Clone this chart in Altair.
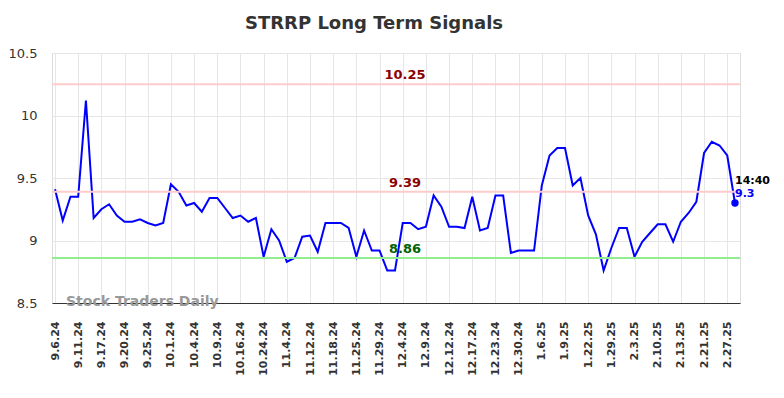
import altair as alt
import pandas as pd

# Tick labels (one every 3 trading sessions)
tick_labels = ["9.6.24", "9.11.24", "9.17.24", "9.20.24", "9.25.24", "10.1.24", "10.4.24",
               "10.9.24", "10.16.24", "10.24.24", "11.4.24", "11.12.24", "11.18.24", "11.25.24",
               "11.29.24", "12.4.24", "12.9.24", "12.12.24", "12.17.24", "12.23.24", "12.30.24",
               "1.6.25", "1.9.25", "1.22.25", "1.29.25", "2.3.25", "2.10.25", "2.13.25",
               "2.21.25", "2.27.25"]

# Price series
prices = [9.41, 9.16, 9.35, 9.35, 10.12, 9.18, 9.25, 9.29, 9.20, 9.15,
          9.15, 9.17, 9.14, 9.12, 9.14, 9.45, 9.39, 9.28, 9.30, 9.23,
          9.34, 9.34, 9.26, 9.18, 9.20, 9.15, 9.18, 8.87, 9.09, 9.00,
          8.83, 8.86, 9.03, 9.04, 8.91, 9.14, 9.14, 9.14, 9.10, 8.87,
          9.08, 8.92, 8.92, 8.76, 8.76, 9.14, 9.14, 9.09, 9.11, 9.36,
          9.27, 9.11, 9.11, 9.10, 9.35, 9.08, 9.10, 9.36, 9.36, 8.90,
          8.92, 8.92, 8.92, 9.44, 9.68, 9.74, 9.74, 9.44, 9.50, 9.20,
          9.05, 8.76, 8.94, 9.10, 9.10, 8.87, 8.99, 9.06, 9.13, 9.13,
          8.99, 9.15, 9.22, 9.31, 9.70, 9.79, 9.76, 9.68, 9.30]

# Signal levels
level_values = [10.25, 9.39, 8.86]
level_labels = ["10.25", "9.39", "8.86"]
level_line_colors = ["#ffcccc", "#ffcccc", "#90ee90"]
level_text_colors = ["#8b0000", "#8b0000", "#006400"]

y_ticks = [8.5, 9, 9.5, 10, 10.5]

last_time = "14:40"
last_value_label = "9.3"

df = pd.DataFrame({"i": list(range(len(prices))), "price": prices})
levels = pd.DataFrame({"v": level_values, "label": level_labels,
                       "lc": level_line_colors, "tc": level_text_colors})
last = df.iloc[[-1]].copy()
last["t"] = last_time
last["lab"] = last_value_label

tick_vals = [3 * k for k in range(len(tick_labels))]
label_arr = "[" + ",".join("'" + s + "'" for s in tick_labels) + "]"

x_scale = alt.Scale(domain=[-0.39, 88.65], nice=False, zero=False)
y_scale = alt.Scale(domain=[8.5, 10.5], nice=False, zero=False)

x_axis = alt.Axis(values=tick_vals, labelExpr=label_arr + "[round(datum.value/3)]",
                  labelAngle=-90, labelFont="DejaVu Sans", labelFontWeight="bold",
                  labelFontSize=11, labelColor="#333333", labelPadding=6, tickSize=12,
                  tickColor="#ffffff00", domainColor="#333333", domainWidth=1,
                  gridColor="#e6e6e6", title=None, labelOverlap=False, labelBound=False)
y_axis = alt.Axis(values=y_ticks, labelExpr="format(datum.value, '~g')",
                  labelFont="DejaVu Sans", labelFontSize=13,
                  labelColor="#333333", labelPadding=15, ticks=False, domain=False,
                  gridColor="#e6e6e6", title=None)

X = alt.X("i:Q", scale=x_scale, axis=x_axis)
Y = alt.Y("price:Q", scale=y_scale, axis=y_axis)

base = alt.Chart(df)

line = base.mark_line(color="#0000ff", strokeWidth=2).encode(x=X, y=Y)

rules = alt.Chart(levels).mark_rule(strokeWidth=2).encode(
    y=alt.Y("v:Q", scale=y_scale, axis=y_axis),
    color=alt.Color("lc:N", scale=None),
)

rule_text = alt.Chart(levels).mark_text(font="DejaVu Sans", fontWeight="bold", fontSize=13,
                                        baseline="bottom", dy=-2).encode(
    x=alt.value(353),
    y=alt.Y("v:Q", scale=y_scale, axis=y_axis),
    text="label:N",
    color=alt.Color("tc:N", scale=None),
)

dot = alt.Chart(last).mark_circle(color="#0000ff", size=55, opacity=1).encode(x=X, y=Y)

t_time = alt.Chart(last).mark_text(font="DejaVu Sans", fontWeight="bold", fontSize=11,
                                   align="left", color="#000000", dy=-22).encode(
    x=X, y=Y, text="t:N")
t_val = alt.Chart(last).mark_text(font="DejaVu Sans", fontWeight="bold", fontSize=11,
                                  align="left", color="#0000ff", dy=-9).encode(
    x=X, y=Y, text="lab:N")

watermark = alt.Chart(pd.DataFrame({"w": ["Stock Traders Daily"]})).mark_text(
    font="DejaVu Sans", fontWeight="bold", fontSize=14, color="#999999", align="left",
    baseline="middle").encode(
    x=alt.value(14), y=alt.value(249), text="w:N")

chart = alt.layer(line, rules, rule_text, dot, t_time, t_val, watermark).properties(
    width=688, height=250,
    title=alt.TitleParams("STRRP Long Term Signals", font="DejaVu Sans", fontSize=18,
                          fontWeight="bold", color="#333333", anchor="middle", dx=-22,
                          offset=14),
    autosize=alt.AutoSizeParams(type="none"),
    padding={"left": 44, "top": 45, "right": 36, "bottom": 80},
).configure_view(stroke=None).configure_axisX(labelOverlap=False).configure(background="#ffffff")

chart.save("out.html", embed_options={"renderer": "svg", "actions": False})
